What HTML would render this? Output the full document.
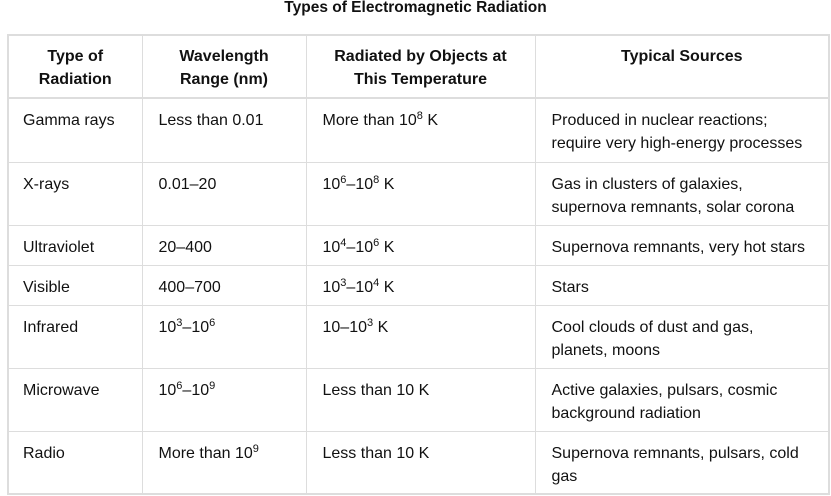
<!DOCTYPE html>
<html><head><meta charset="utf-8"><style>
body{margin:0;width:831px;height:496px;background:#fff;font-family:"Liberation Sans",Arial,sans-serif;color:#111;overflow:hidden}
.title{position:absolute;top:0;left:0;width:831px;text-align:center;font-weight:bold;font-size:15.5px;line-height:16px}
table{position:absolute;left:7px;top:34px;border-collapse:collapse;border:2px solid #ddd;font-size:16px;table-layout:fixed;width:821px}
td,th{border:1px solid #ddd;vertical-align:top;text-align:left;padding:10px 0 0 16px;line-height:23px;box-sizing:border-box}
td.first{padding-left:14px}
th{text-align:center;font-weight:bold;padding:9px 4px 0 4px;border-bottom:2px solid #ddd}
sup{font-size:11px;line-height:0;vertical-align:6px}
</style></head><body>
<div class="title">Types of Electromagnetic Radiation</div>
<table>
<colgroup><col style="width:134px"><col style="width:164px"><col style="width:229px"><col style="width:294px"></colgroup>
<tr style="height:63px"><th>Type of<br>Radiation</th><th>Wavelength<br>Range (nm)</th><th>Radiated by Objects at<br>This Temperature</th><th>Typical Sources</th></tr>
<tr style="height:64px"><td class="first">Gamma rays</td><td>Less than 0.01</td><td>More than 10<sup>8</sup> K</td><td>Produced in nuclear reactions;<br>require very high-energy processes</td></tr>
<tr style="height:63px"><td class="first">X-rays</td><td>0.01–20</td><td>10<sup>6</sup>–10<sup>8</sup> K</td><td>Gas in clusters of galaxies,<br>supernova remnants, solar corona</td></tr>
<tr style="height:40px"><td class="first">Ultraviolet</td><td>20–400</td><td>10<sup>4</sup>–10<sup>6</sup> K</td><td>Supernova remnants, very hot stars</td></tr>
<tr style="height:40px"><td class="first">Visible</td><td>400–700</td><td>10<sup>3</sup>–10<sup>4</sup> K</td><td>Stars</td></tr>
<tr style="height:63px"><td class="first">Infrared</td><td>10<sup>3</sup>–10<sup>6</sup></td><td>10–10<sup>3</sup> K</td><td>Cool clouds of dust and gas,<br>planets, moons</td></tr>
<tr style="height:63px"><td class="first">Microwave</td><td>10<sup>6</sup>–10<sup>9</sup></td><td>Less than 10 K</td><td>Active galaxies, pulsars, cosmic<br>background radiation</td></tr>
<tr style="height:63px"><td class="first">Radio</td><td>More than 10<sup>9</sup></td><td>Less than 10 K</td><td>Supernova remnants, pulsars, cold<br>gas</td></tr>
</table>
</body></html>
